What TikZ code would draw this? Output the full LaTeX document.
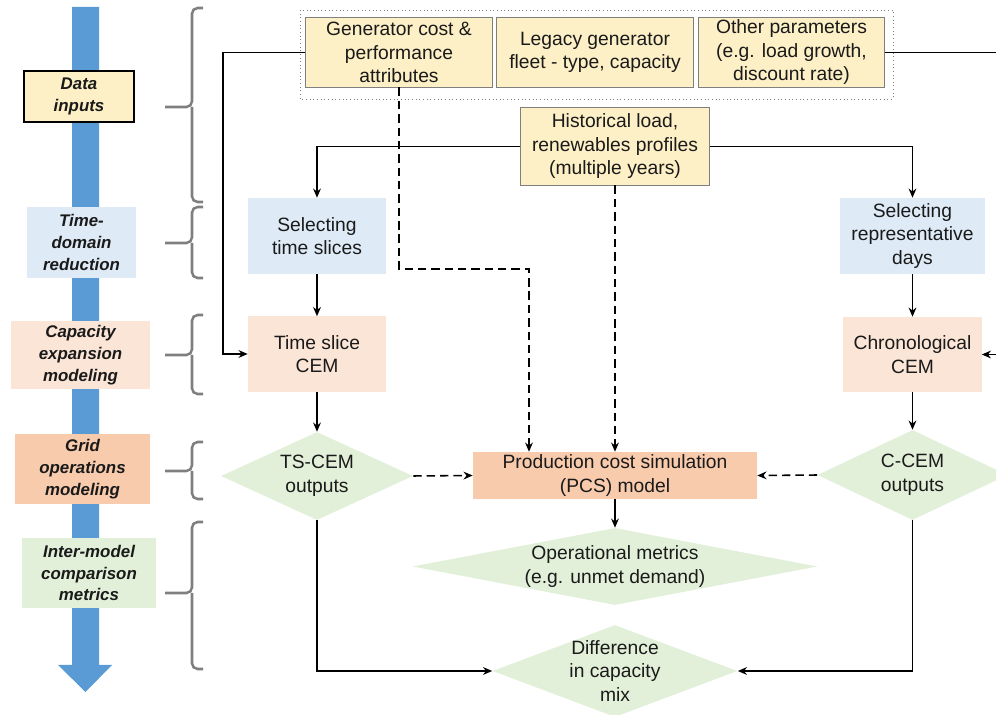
\documentclass[tikz,border=0pt]{standalone}
\usepackage{fontspec}
\setmainfont{Liberation Sans}
\usepackage{xcolor}
\usepackage{tikz}
\usetikzlibrary{positioning,shapes.geometric,arrows.meta}

\definecolor{inyellow}{HTML}{FDEFC6}
\definecolor{redblue}{HTML}{DEEBF7}
\definecolor{cempeach}{HTML}{FBE5D6}
\definecolor{opsorange}{HTML}{F8CBAD}
\definecolor{metgreen}{HTML}{E2F0D9}
\definecolor{flowblue}{HTML}{5B9BD5}
\definecolor{bracegray}{HTML}{7F7F7F}
\definecolor{textblack}{HTML}{1A1A1A}

\newcommand{\boxfont}{\fontsize{13.7}{16.7}\selectfont}
\newcommand{\tagfont}{\fontsize{12}{15.4}\selectfont\bfseries\itshape}
\newcommand{\stagebrace}[3]{%
  \draw[stagebrace] (203,#1) -| (192,#2) -- (165,#2);
  \draw[stagebrace] (192,#2) |- (203,#3);}

\tikzset{
  box/.style={rectangle, inner sep=0pt, align=center, text=textblack, font=\boxfont},
  inputbox/.style={box, fill=inyellow, draw=bracegray, line width=0.7pt},
  decision/.style={diamond, inner sep=0pt, fill=metgreen},
  tag/.style={rectangle, inner sep=0pt, align=center, text=textblack, font=\tagfont},
  stagebrace/.style={draw=bracegray, line width=1.8pt, rounded corners=4pt},
  link/.style={->, line width=1.1pt, black},
  dlink/.style={link, dash pattern=on 6pt off 3.5pt}
}

\begin{document}
\begin{tikzpicture}[x=0.025cm, y=-0.025cm, >={Stealth[length=6.5pt,width=5.5pt]}]
\useasboundingbox (0,0) rectangle (996,715);

\fill[flowblue] (72,7) -- (99,7) -- (99,665) -- (112,665) -- (85.5,692) -- (58,665) -- (72,665) -- cycle;

\node (data) [tag, fill=inyellow, draw=black, line width=0.8pt, minimum width=2.75cm, minimum height=1.275cm] at (79,96.5) {Data\\inputs};
\node (tdr) [tag, fill=redblue, minimum width=2.725cm, minimum height=1.775cm] at (81.5,242.5) {Time-\\domain\\reduction};
\node (cem) [tag, fill=cempeach, minimum width=3.475cm, minimum height=1.7cm] at (80.5,355) {Capacity\\expansion\\modeling};
\node (gom) [tag, fill=opsorange, minimum width=3.375cm, minimum height=1.75cm] at (82.5,469) {Grid\\operations\\modeling};
\node (imc) [tag, fill=metgreen, minimum width=3.35cm, minimum height=1.75cm] at (89,573) {Inter-model\\comparison\\metrics};

\stagebrace{8}{107}{202}
\stagebrace{207}{243}{278}
\stagebrace{315}{355}{394}
\stagebrace{442}{471}{499}
\stagebrace{522}{593}{669}

\draw[bracegray, line width=0.6pt, dotted] (300,10) rectangle (893,99);
\node (gen) [inputbox, minimum width=4.65cm, minimum height=1.725cm] at (399,52.5) {Generator cost \&\\performance\\attributes};
\node (fleet) [inputbox, minimum width=4.9cm, minimum height=1.725cm] at (595,52.5) {Legacy generator\\fleet - type, capacity};
\node (other) [inputbox, minimum width=4.625cm, minimum height=1.725cm] at (791.5,52.5) {Other parameters\\(e.g. load growth,\\discount rate)};
\node (hist) [inputbox, minimum width=4.7cm, minimum height=1.925cm] at (615,146.5) {Historical load,\\renewables profiles\\(multiple years)};

\node (slices) [box, fill=redblue, minimum width=3.45cm, minimum height=1.9cm] at (317,236) {Selecting\\time slices};
\node (repdays) [box, fill=redblue, minimum width=3.6cm, minimum height=1.9cm] at (912.5,236) {Selecting\\representative\\days};
\node (tscem) [box, fill=cempeach, minimum width=3.45cm, minimum height=1.875cm] at (317,354) {Time slice\\CEM};
\node (chcem) [box, fill=cempeach, minimum width=3.45cm, minimum height=1.875cm] at (912.5,354.5) {Chronological\\CEM};

\node (tsout) [decision, minimum width=4.8cm, minimum height=2.2cm] at (317,476) {};
\node [box] at (tsout) {TS-CEM\\outputs};
\node (ccout) [decision, minimum width=4.75cm, minimum height=2.25cm] at (912.5,475) {};
\node [box] at (ccout) {C-CEM\\outputs};
\node (pcs) [box, fill=opsorange, minimum width=7.1cm, minimum height=1.175cm] at (615,475.5) {Production cost simulation\\(PCS) model};
\node (opmet) [decision, minimum width=10.125cm, minimum height=1.925cm] at (615,566.5) {};
\node [box] at (opmet) {Operational metrics\\(e.g. unmet demand)};
\node (capdiff) [decision, minimum width=6.125cm, minimum height=2.3cm] at (615,671) {};
\node [box] at (capdiff) {Difference\\in capacity\\mix};

\coordinate (genbend) at (529,269);
\coordinate (rightedge) at (1004,52.5);

\draw[link] (gen.west) -- (223,52.5) |- (tscem.west);
\draw[link] (other.east) -- (rightedge) |- (chcem.east);
\draw[link] (hist.west) -| (slices.north);
\draw[link] (hist.east) -| (repdays.north);
\draw[link] (slices) -- (tscem);
\draw[link] (repdays) -- (chcem);
\draw[link] (tscem) -- (tsout);
\draw[link] (chcem) -- (ccout);
\draw[dlink] (gen.south) |- (genbend) -- (genbend |- pcs.north);
\draw[dlink] (hist.south) -- (pcs.north);
\draw[dlink] (tsout.east) -- (pcs.west);
\draw[dlink] (ccout.west) -- (pcs.east);
\draw[link] (pcs) -- (opmet);
\draw[link] (tsout.south) |- (capdiff.west);
\draw[link] (ccout.south) |- (capdiff.east);
\end{tikzpicture}
\end{document}
